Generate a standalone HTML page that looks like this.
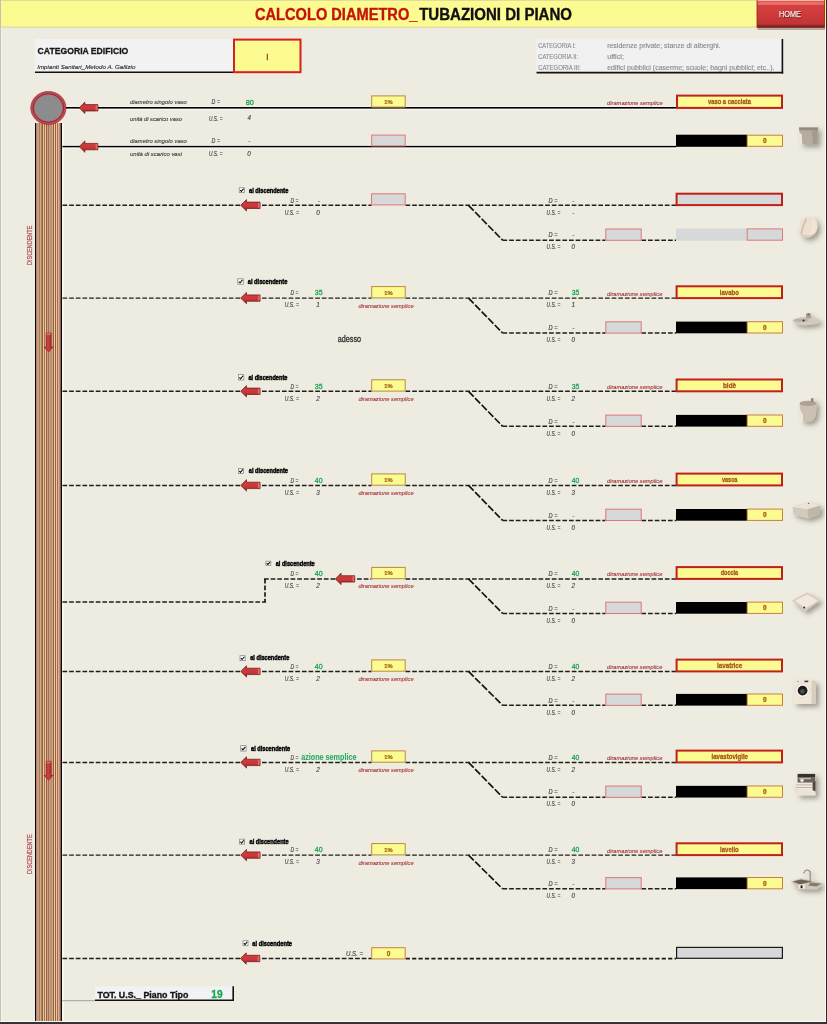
<!DOCTYPE html>
<html><head><meta charset="utf-8"><title>Calcolo Diametro</title>
<style>
html,body{margin:0;padding:0;background:#EEECE1;}
body{width:827px;height:1024px;overflow:hidden;font-family:"Liberation Sans", sans-serif;}
svg{display:block;font-family:"Liberation Sans", sans-serif;will-change:transform;}
</style></head><body>
<svg width="827" height="1024" viewBox="0 0 827 1024">
<defs>
<linearGradient id="gArrH" x1="0" y1="0" x2="0" y2="1">
<stop offset="0" stop-color="#a82c2c"/><stop offset="0.3" stop-color="#cc3c3c"/><stop offset="0.6" stop-color="#c83838"/><stop offset="1" stop-color="#862020"/>
</linearGradient>
<linearGradient id="gArrV" x1="0" y1="0" x2="1" y2="0">
<stop offset="0" stop-color="#a82c2c"/><stop offset="0.45" stop-color="#d04040"/><stop offset="1" stop-color="#922424"/>
</linearGradient>
<linearGradient id="gHome" x1="0" y1="0" x2="0" y2="1">
<stop offset="0" stop-color="#d84444"/><stop offset="0.5" stop-color="#cf3a3a"/><stop offset="0.88" stop-color="#c23434"/><stop offset="0.92" stop-color="#8a2626"/><stop offset="1" stop-color="#7a2020"/>
</linearGradient>
<radialGradient id="gIcon" cx="0.45" cy="0.4" r="0.7">
<stop offset="0" stop-color="#efe6da"/><stop offset="1" stop-color="#b8ae9f"/>
</radialGradient>
<filter id="blur1" x="-30%" y="-30%" width="160%" height="160%"><feGaussianBlur stdDeviation="0.6"/></filter>
<filter id="soft" x="-20%" y="-20%" width="140%" height="140%"><feGaussianBlur stdDeviation="0.35"/></filter>
<filter id="ds" x="-10%" y="-10%" width="120%" height="120%" filterUnits="userSpaceOnUse">
 <feGaussianBlur in="SourceAlpha" stdDeviation="2.4"/>
 <feOffset dx="3.2" dy="2.8" result="b"/>
 <feFlood flood-color="#4e4a40" flood-opacity="0.5"/>
 <feComposite in2="b" operator="in"/>
 <feMerge><feMergeNode/><feMergeNode in="SourceGraphic"/></feMerge>
</filter>
<filter id="blur2" x="-50%" y="-50%" width="200%" height="200%"><feGaussianBlur stdDeviation="1.6"/></filter>
</defs>
<rect x="0" y="0" width="827" height="1024" fill="#EEECE1"/>

<rect x="0" y="0" width="827.00" height="27.50" fill="#FCFB92" />
<line x1="0" y1="0.5" x2="827" y2="0.5" stroke="#e0dc9c" stroke-width="1"/>
<line x1="0" y1="27.2" x2="827" y2="27.2" stroke="#dcd9a2" stroke-width="1.3"/>
<text x="255" y="20.0" font-size="15.6" font-weight="bold" font-style="normal" fill="#C41408" textLength="162.40" lengthAdjust="spacingAndGlyphs"  stroke="#C41408" stroke-width="0.35">CALCOLO DIAMETRO_</text>
<text x="419.2" y="20.0" font-size="15.6" font-weight="bold" font-style="normal" fill="#111" textLength="152.80" lengthAdjust="spacingAndGlyphs"  stroke="#111" stroke-width="0.35">TUBAZIONI DI PIANO</text>
<rect x="757.5" y="3" width="67.5" height="27" fill="#6a6050" opacity="0.45" filter="url(#blur1)"/>
<rect x="757" y="0" width="67.60" height="27.50" fill="url(#gHome)" stroke="#9a2424" stroke-width="0.8" />
<rect x="757.5" y="0" width="66.70" height="1.20" fill="#f4b8a0" />
<rect x="757.8" y="2.2" width="66.00" height="2.60" fill="#f07070" />
<text x="779.4" y="17.5" font-size="8.4" font-weight="normal" font-style="normal" fill="#6a1818" textLength="22.00" lengthAdjust="spacingAndGlyphs"  stroke="#6a1818" stroke-width="0.5">HOME</text>
<text x="778.9" y="17.1" font-size="8.4" font-weight="normal" font-style="normal" fill="#f8e6e2" textLength="22.00" lengthAdjust="spacingAndGlyphs"  stroke="#f8e6e2" stroke-width="0.25">HOME</text>
<rect x="35" y="39" width="198.00" height="33.00" fill="#F2F2F2" />
<line x1="35" y1="72.2" x2="233" y2="72.2" stroke="#111" stroke-width="1.6"/>
<text x="37.6" y="54" font-size="9.6" font-weight="bold" font-style="normal" fill="#161616" textLength="90.70" lengthAdjust="spacingAndGlyphs"  stroke="#161616" stroke-width="0.3">CATEGORIA EDIFICIO</text>
<text x="37.2" y="69.2" font-size="6.2" font-weight="normal" font-style="italic" fill="#2a2a2a" textLength="98.20" lengthAdjust="spacingAndGlyphs"  stroke="#2a2a2a" stroke-width="0.12">Impianti Sanitari_Metodo A. Gallizio</text>
<rect x="234.0" y="39.6" width="66.50" height="32.60" fill="#FCFB92" stroke="#D42020" stroke-width="2" />
<text x="266.6" y="59.6" font-size="9.4" font-weight="bold" font-style="normal" fill="#9C4A00" textLength="1.80" lengthAdjust="spacingAndGlyphs"  stroke="#9C4A00" stroke-width="0.4">I</text>
<rect x="536.5" y="39.2" width="245.50" height="33.30" fill="#F1F1F1" />
<line x1="782.4" y1="39" x2="782.4" y2="73.5" stroke="#111" stroke-width="1.6"/>
<line x1="536.5" y1="72.7" x2="783.2" y2="72.7" stroke="#111" stroke-width="1.7"/>
<text x="538.2" y="47.7" font-size="6.4" font-weight="normal" font-style="normal" fill="#8a8a8a" textLength="37.50" lengthAdjust="spacingAndGlyphs"  stroke="#8a8a8a" stroke-width="0.12">CATEGORIA I:</text>
<text x="607.2" y="47.7" font-size="6.4" font-weight="normal" font-style="normal" fill="#8a8a8a" textLength="113.30" lengthAdjust="spacingAndGlyphs"  stroke="#8a8a8a" stroke-width="0.12">residenze private; stanze di alberghi.</text>
<text x="538.2" y="58.6" font-size="6.4" font-weight="normal" font-style="normal" fill="#8a8a8a" textLength="39.90" lengthAdjust="spacingAndGlyphs"  stroke="#8a8a8a" stroke-width="0.12">CATEGORIA II:</text>
<text x="607.2" y="58.6" font-size="6.4" font-weight="normal" font-style="normal" fill="#8a8a8a" textLength="16.80" lengthAdjust="spacingAndGlyphs"  stroke="#8a8a8a" stroke-width="0.12">uffici;</text>
<text x="538.2" y="69.7" font-size="6.4" font-weight="normal" font-style="normal" fill="#8a8a8a" textLength="42.40" lengthAdjust="spacingAndGlyphs"  stroke="#8a8a8a" stroke-width="0.12">CATEGORIA III:</text>
<text x="607.2" y="69.7" font-size="6.4" font-weight="normal" font-style="normal" fill="#8a8a8a" textLength="167.30" lengthAdjust="spacingAndGlyphs"  stroke="#8a8a8a" stroke-width="0.12">edifici pubblici (caserme; scuole; bagni pubblici; etc..).</text>
<g shape-rendering="crispEdges">
<rect x="35" y="123" width="1.00" height="901.00" fill="#0a0a0a" />
<rect x="36" y="123" width="1.00" height="901.00" fill="#B08070" />
<rect x="37" y="123" width="1.00" height="901.00" fill="#C89880" />
<rect x="38" y="123" width="1.00" height="901.00" fill="#C8A080" />
<rect x="39" y="123" width="1.00" height="901.00" fill="#A08050" />
<rect x="40" y="123" width="1.00" height="901.00" fill="#D0B080" />
<rect x="41" y="123" width="1.00" height="901.00" fill="#B08060" />
<rect x="42" y="123" width="1.00" height="901.00" fill="#906040" />
<rect x="43" y="123" width="1.00" height="901.00" fill="#F0C0A0" />
<rect x="44" y="123" width="1.00" height="901.00" fill="#A07050" />
<rect x="45" y="123" width="1.00" height="901.00" fill="#F0C8A0" />
<rect x="46" y="123" width="1.00" height="901.00" fill="#906040" />
<rect x="47" y="123" width="1.00" height="901.00" fill="#D0A080" />
<rect x="48" y="123" width="1.00" height="901.00" fill="#A07050" />
<rect x="49" y="123" width="1.00" height="901.00" fill="#C8A080" />
<rect x="50" y="123" width="1.00" height="901.00" fill="#C09070" />
<rect x="51" y="123" width="1.00" height="901.00" fill="#B89070" />
<rect x="52" y="123" width="1.00" height="901.00" fill="#D0A880" />
<rect x="53" y="123" width="1.00" height="901.00" fill="#906040" />
<rect x="54" y="123" width="1.00" height="901.00" fill="#F8C8A0" />
<rect x="55" y="123" width="1.00" height="901.00" fill="#906040" />
<rect x="56" y="123" width="1.00" height="901.00" fill="#F0C0A0" />
<rect x="57" y="123" width="1.00" height="901.00" fill="#A07050" />
<rect x="58" y="123" width="1.00" height="901.00" fill="#E0B090" />
<rect x="59" y="123" width="1.00" height="901.00" fill="#C09070" />
<rect x="60" y="123" width="1.00" height="901.00" fill="#806050" />
<rect x="61" y="123" width="1.20" height="901.00" fill="#0a0a0a" />
<rect x="62.2" y="123" width="1.60" height="901.00" fill="#f8f6ee" />
</g>
<ellipse cx="48.4" cy="108" rx="17.6" ry="16.5" fill="#c04a52" stroke="#a8323c" stroke-width="0.8"/>
<ellipse cx="48.4" cy="108" rx="15.4" ry="14.3" fill="none" stroke="#8a2a34" stroke-width="0.9"/>
<ellipse cx="48.4" cy="108" rx="14" ry="13.2" fill="#8c8c8e"/>
<polygon points="46.0,333 51.2,333 51.2,347 53.1,347 48.6,352 44.1,347 46.0,347" fill="url(#gArrV)" stroke="#7a1c1c" stroke-width="0.5" stroke-linejoin="round"/><rect x="46.5" y="333.3" width="4.2" height="1.6" fill="#f08080" opacity="0.8"/>
<polygon points="46.0,761.3 51.2,761.3 51.2,775.3 53.1,775.3 48.6,780.3 44.1,775.3 46.0,775.3" fill="url(#gArrV)" stroke="#7a1c1c" stroke-width="0.5" stroke-linejoin="round"/><rect x="46.5" y="761.5999999999999" width="4.2" height="1.6" fill="#f08080" opacity="0.8"/>
<text x="0" y="0" font-size="6.3" fill="#b04a56" stroke="#b04a56" stroke-width="0.2" text-anchor="middle" textLength="39.3" lengthAdjust="spacingAndGlyphs" transform="translate(32.2,245.35) rotate(-90)">DISCENDENTE</text>
<text x="0" y="0" font-size="6.3" fill="#b04a56" stroke="#b04a56" stroke-width="0.2" text-anchor="middle" textLength="39.6" lengthAdjust="spacingAndGlyphs" transform="translate(32.2,854.2) rotate(-90)">DISCENDENTE</text>
<line x1="66" y1="107.8" x2="676" y2="107.8" stroke="#000" stroke-width="1.7"/>
<line x1="66" y1="109.3" x2="676" y2="109.3" stroke="#fbfaf4" stroke-width="1"/>
<line x1="66" y1="106.2" x2="676" y2="106.2" stroke="#f3f2ec" stroke-width="1"/>
<polygon points="79.1,107.8 84.89999999999999,102.1 84.89999999999999,104.6 97.89999999999999,104.6 97.89999999999999,111.0 84.89999999999999,111.0 84.89999999999999,113.5" fill="url(#gArrH)" stroke="#6a1616" stroke-width="0.7" stroke-linejoin="round"/><rect x="95.69999999999999" y="105.19999999999999" width="1.8" height="5.2" fill="#f08080" opacity="0.7"/>
<text x="130" y="103.8" font-size="6.1" font-weight="normal" font-style="italic" fill="#3a3a3a" textLength="56.80" lengthAdjust="spacingAndGlyphs"  stroke="#3a3a3a" stroke-width="0.12">diametro singolo vaso</text>
<text x="211.6" y="104.0" font-size="6.3" font-weight="normal" font-style="italic" fill="#3a3a3a" textLength="8.40" lengthAdjust="spacingAndGlyphs"  stroke="#3a3a3a" stroke-width="0.12">D =</text>
<text x="130" y="120.89999999999999" font-size="6.1" font-weight="normal" font-style="italic" fill="#3a3a3a" textLength="52.00" lengthAdjust="spacingAndGlyphs"  stroke="#3a3a3a" stroke-width="0.12">unità di scarico vaso</text>
<text x="209" y="120.89999999999999" font-size="6.3" font-weight="normal" font-style="italic" fill="#3a3a3a" textLength="13.50" lengthAdjust="spacingAndGlyphs"  stroke="#3a3a3a" stroke-width="0.12">U.S. =</text>
<line x1="62.5" y1="146.6" x2="676" y2="146.6" stroke="#000" stroke-width="1.7"/>
<line x1="62.5" y1="148.1" x2="676" y2="148.1" stroke="#fbfaf4" stroke-width="1"/>
<line x1="62.5" y1="145.0" x2="676" y2="145.0" stroke="#f3f2ec" stroke-width="1"/>
<polygon points="79.1,146.6 84.89999999999999,140.9 84.89999999999999,143.4 97.89999999999999,143.4 97.89999999999999,149.79999999999998 84.89999999999999,149.79999999999998 84.89999999999999,152.29999999999998" fill="url(#gArrH)" stroke="#6a1616" stroke-width="0.7" stroke-linejoin="round"/><rect x="95.69999999999999" y="144.0" width="1.8" height="5.2" fill="#f08080" opacity="0.7"/>
<text x="130" y="142.6" font-size="6.1" font-weight="normal" font-style="italic" fill="#3a3a3a" textLength="56.80" lengthAdjust="spacingAndGlyphs"  stroke="#3a3a3a" stroke-width="0.12">diametro singolo vaso</text>
<text x="211.6" y="142.79999999999998" font-size="6.3" font-weight="normal" font-style="italic" fill="#3a3a3a" textLength="8.40" lengthAdjust="spacingAndGlyphs"  stroke="#3a3a3a" stroke-width="0.12">D =</text>
<text x="130" y="155.79999999999998" font-size="6.1" font-weight="normal" font-style="italic" fill="#3a3a3a" textLength="52.00" lengthAdjust="spacingAndGlyphs"  stroke="#3a3a3a" stroke-width="0.12">unità di scarico vasi</text>
<text x="209" y="155.79999999999998" font-size="6.3" font-weight="normal" font-style="italic" fill="#3a3a3a" textLength="13.50" lengthAdjust="spacingAndGlyphs"  stroke="#3a3a3a" stroke-width="0.12">U.S. =</text>
<text x="245.7" y="104.8" font-size="8.0" font-weight="normal" font-style="normal" fill="#18A850" textLength="8.20" lengthAdjust="spacingAndGlyphs"  stroke="#18A850" stroke-width="0.3">80</text>
<text x="249.3" y="120.4" font-size="6.3" font-weight="normal" font-style="italic" fill="#3a3a3a" text-anchor="middle"  stroke="#3a3a3a" stroke-width="0.12">4</text>
<text x="249.3" y="142.8" font-size="6.3" font-weight="normal" font-style="italic" fill="#3a3a3a" text-anchor="middle"  stroke="#3a3a3a" stroke-width="0.12">-</text>
<text x="249.1" y="155.8" font-size="6.3" font-weight="normal" font-style="italic" fill="#3a3a3a" text-anchor="middle"  stroke="#3a3a3a" stroke-width="0.12">0</text>
<rect x="371.7" y="95.9" width="33.50" height="11.20" fill="#FCFB92" stroke="#B88A40" stroke-width="1" />
<text x="388.5" y="103.8" font-size="5.8" font-weight="bold" font-style="normal" fill="#A05A10" text-anchor="middle"  stroke="#A05A10" stroke-width="0.15">1%</text>
<text x="607" y="105.2" font-size="5.9" font-weight="normal" font-style="italic" fill="#A33038" textLength="55.60" lengthAdjust="spacingAndGlyphs"  stroke="#A33038" stroke-width="0.1">diramazione semplice</text>
<rect x="677.0" y="95.6" width="105.00" height="12.30" fill="#FCFB92" stroke="#C0201A" stroke-width="2" />
<text x="707.9" y="104.3" font-size="7.2" font-weight="bold" font-style="normal" fill="#A5561E" textLength="43.00" lengthAdjust="spacingAndGlyphs"  stroke="#A5561E" stroke-width="0.3">vaso a cacciata</text>
<rect x="371.7" y="135.1" width="33.50" height="10.80" fill="#D7D8DA" stroke="#E07878" stroke-width="1" />
<rect x="676" y="134.7" width="71.00" height="12.10" fill="#000" />
<rect x="747.2" y="135.2" width="35.30" height="11.10" fill="#FCFB92" stroke="#C88040" stroke-width="1" />
<text x="764.9" y="143.3" font-size="6.5" font-weight="bold" font-style="normal" fill="#A86400" text-anchor="middle"  stroke="#A86400" stroke-width="0.3">0</text>
<line x1="62.5" y1="205.3" x2="371.5" y2="205.3" stroke="#1e1e1e" stroke-width="1.45" stroke-dasharray="4.7 1.95"/>
<line x1="405.5" y1="205.3" x2="676" y2="205.3" stroke="#1e1e1e" stroke-width="1.45" stroke-dasharray="4.7 1.95"/>
<line x1="468.5" y1="205.3" x2="502.6" y2="240.2" stroke="#151515" stroke-width="1.7" stroke-dasharray="7.4 2.0"/>
<line x1="502.5" y1="240.2" x2="605.6" y2="240.2" stroke="#1e1e1e" stroke-width="1.45" stroke-dasharray="4.7 1.95"/>
<line x1="641.4" y1="240.2" x2="676" y2="240.2" stroke="#1e1e1e" stroke-width="1.45" stroke-dasharray="4.7 1.95"/>
<polygon points="240.7,205.3 246.5,199.60000000000002 246.5,202.10000000000002 260.09999999999997,202.10000000000002 260.09999999999997,208.5 246.5,208.5 246.5,211.0" fill="url(#gArrH)" stroke="#6a1616" stroke-width="0.7" stroke-linejoin="round"/><rect x="257.9" y="202.70000000000002" width="1.8" height="5.2" fill="#f08080" opacity="0.7"/>
<rect x="239.3" y="187.70000000000002" width="5.20" height="4.70" fill="#fdfdfd" stroke="#8a8a8a" stroke-width="0.8" /><polyline points="240.22,190.05 241.42000000000002,191.37 243.70000000000002,188.675" fill="none" stroke="#111" stroke-width="1.1"/>
<text x="249" y="192.5" font-size="6.6" font-weight="bold" font-style="normal" fill="#050505" textLength="39.40" lengthAdjust="spacingAndGlyphs"  stroke="#050505" stroke-width="0.45">al discendente</text>
<text x="290.6" y="202.5" font-size="6.3" font-weight="normal" font-style="italic" fill="#3a3a3a" textLength="7.90" lengthAdjust="spacingAndGlyphs"  stroke="#3a3a3a" stroke-width="0.12">D =</text><text x="284.8" y="214.5" font-size="6.3" font-weight="normal" font-style="italic" fill="#3a3a3a" textLength="14.20" lengthAdjust="spacingAndGlyphs"  stroke="#3a3a3a" stroke-width="0.12">U.S. =</text><text x="318.7" y="202.5" font-size="6.3" font-weight="normal" font-style="italic" fill="#3a3a3a" text-anchor="middle"  stroke="#3a3a3a" stroke-width="0.12">-</text><text x="318.0" y="214.5" font-size="6.3" font-weight="normal" font-style="italic" fill="#3a3a3a" text-anchor="middle"  stroke="#3a3a3a" stroke-width="0.12">0</text>
<rect x="371.5" y="193.8" width="33.70" height="11.10" fill="#D7D8DA" stroke="#E07878" stroke-width="1" />
<text x="548.6" y="202.5" font-size="6.3" font-weight="normal" font-style="italic" fill="#3a3a3a" textLength="9.00" lengthAdjust="spacingAndGlyphs"  stroke="#3a3a3a" stroke-width="0.12">D =</text><text x="546.5" y="214.5" font-size="6.3" font-weight="normal" font-style="italic" fill="#3a3a3a" textLength="13.80" lengthAdjust="spacingAndGlyphs"  stroke="#3a3a3a" stroke-width="0.12">U.S. =</text><text x="573.2" y="202.5" font-size="6.3" font-weight="normal" font-style="italic" fill="#3a3a3a" text-anchor="middle"  stroke="#3a3a3a" stroke-width="0.12">-</text><text x="573.2" y="214.5" font-size="6.3" font-weight="normal" font-style="italic" fill="#3a3a3a" text-anchor="middle"  stroke="#3a3a3a" stroke-width="0.12">-</text>
<text x="548.6" y="237.39999999999998" font-size="6.3" font-weight="normal" font-style="italic" fill="#3a3a3a" textLength="9.00" lengthAdjust="spacingAndGlyphs"  stroke="#3a3a3a" stroke-width="0.12">D =</text><text x="546.5" y="249.39999999999998" font-size="6.3" font-weight="normal" font-style="italic" fill="#3a3a3a" textLength="13.80" lengthAdjust="spacingAndGlyphs"  stroke="#3a3a3a" stroke-width="0.12">U.S. =</text><text x="573.2" y="237.39999999999998" font-size="6.3" font-weight="normal" font-style="italic" fill="#3a3a3a" text-anchor="middle"  stroke="#3a3a3a" stroke-width="0.12">-</text><text x="573.2" y="249.39999999999998" font-size="6.3" font-weight="normal" font-style="italic" fill="#3a3a3a" text-anchor="middle"  stroke="#3a3a3a" stroke-width="0.12">0</text>
<rect x="676.6" y="193.70000000000002" width="105.40" height="11.40" fill="#D7D8DA" stroke="#C0201A" stroke-width="2" />
<rect x="605.8" y="229.0" width="35.40" height="11.30" fill="#D7D8DA" stroke="#D87878" stroke-width="1" />
<rect x="676" y="228.39999999999998" width="71.00" height="12.30" fill="#D7D8DA" />
<rect x="747.2" y="228.89999999999998" width="35.30" height="11.30" fill="#D7D8DA" stroke="#E07878" stroke-width="1" />
<line x1="62.5" y1="298.1" x2="371.5" y2="298.1" stroke="#1e1e1e" stroke-width="1.45" stroke-dasharray="4.7 1.95"/>
<line x1="405.5" y1="298.1" x2="676" y2="298.1" stroke="#1e1e1e" stroke-width="1.45" stroke-dasharray="4.7 1.95"/>
<line x1="468.5" y1="298.1" x2="502.6" y2="333.0" stroke="#151515" stroke-width="1.7" stroke-dasharray="7.4 2.0"/>
<line x1="502.5" y1="333.0" x2="605.6" y2="333.0" stroke="#1e1e1e" stroke-width="1.45" stroke-dasharray="4.7 1.95"/>
<line x1="641.4" y1="333.0" x2="676" y2="333.0" stroke="#1e1e1e" stroke-width="1.45" stroke-dasharray="4.7 1.95"/>
<polygon points="240.7,298.1 246.5,292.40000000000003 246.5,294.90000000000003 260.09999999999997,294.90000000000003 260.09999999999997,301.3 246.5,301.3 246.5,303.8" fill="url(#gArrH)" stroke="#6a1616" stroke-width="0.7" stroke-linejoin="round"/><rect x="257.9" y="295.50000000000006" width="1.8" height="5.2" fill="#f08080" opacity="0.7"/>
<rect x="237.8" y="278.79999999999995" width="5.50" height="5.40" fill="#fdfdfd" stroke="#8a8a8a" stroke-width="0.8" /><polyline points="238.786,281.5 240.046,282.988 242.44,279.95" fill="none" stroke="#111" stroke-width="1.1"/>
<text x="247.8" y="283.90000000000003" font-size="6.6" font-weight="bold" font-style="normal" fill="#050505" textLength="39.50" lengthAdjust="spacingAndGlyphs"  stroke="#050505" stroke-width="0.45">al discendente</text>
<text x="290.6" y="295.3" font-size="6.3" font-weight="normal" font-style="italic" fill="#3a3a3a" textLength="7.90" lengthAdjust="spacingAndGlyphs"  stroke="#3a3a3a" stroke-width="0.12">D =</text><text x="284.8" y="307.3" font-size="6.3" font-weight="normal" font-style="italic" fill="#3a3a3a" textLength="14.20" lengthAdjust="spacingAndGlyphs"  stroke="#3a3a3a" stroke-width="0.12">U.S. =</text><text x="314.8" y="295.40000000000003" font-size="8.0" font-weight="normal" font-style="normal" fill="#18A850" textLength="7.80" lengthAdjust="spacingAndGlyphs"  stroke="#18A850" stroke-width="0.3">35</text><text x="318.0" y="307.3" font-size="6.3" font-weight="normal" font-style="italic" fill="#3a3a3a" text-anchor="middle"  stroke="#3a3a3a" stroke-width="0.12">1</text>
<rect x="371.7" y="286.6" width="33.50" height="11.30" fill="#FCFB92" stroke="#B88A40" stroke-width="1" />
<text x="388.5" y="294.5" font-size="5.8" font-weight="bold" font-style="normal" fill="#A05A10" text-anchor="middle"  stroke="#A05A10" stroke-width="0.15">1%</text>
<text x="358.4" y="307.5" font-size="5.9" font-weight="normal" font-style="italic" fill="#A33038" textLength="55.20" lengthAdjust="spacingAndGlyphs"  stroke="#A33038" stroke-width="0.1">diramazione semplice</text>
<text x="607" y="295.5" font-size="5.9" font-weight="normal" font-style="italic" fill="#A33038" textLength="55.40" lengthAdjust="spacingAndGlyphs"  stroke="#A33038" stroke-width="0.1">diramazione semplice</text>
<text x="548.6" y="295.3" font-size="6.3" font-weight="normal" font-style="italic" fill="#3a3a3a" textLength="9.00" lengthAdjust="spacingAndGlyphs"  stroke="#3a3a3a" stroke-width="0.12">D =</text><text x="546.5" y="307.3" font-size="6.3" font-weight="normal" font-style="italic" fill="#3a3a3a" textLength="13.80" lengthAdjust="spacingAndGlyphs"  stroke="#3a3a3a" stroke-width="0.12">U.S. =</text><text x="571.7" y="295.40000000000003" font-size="8.0" font-weight="normal" font-style="normal" fill="#18A850" textLength="7.60" lengthAdjust="spacingAndGlyphs"  stroke="#18A850" stroke-width="0.3">35</text><text x="573.2" y="307.3" font-size="6.3" font-weight="normal" font-style="italic" fill="#3a3a3a" text-anchor="middle"  stroke="#3a3a3a" stroke-width="0.12">1</text>
<text x="548.6" y="330.2" font-size="6.3" font-weight="normal" font-style="italic" fill="#3a3a3a" textLength="9.00" lengthAdjust="spacingAndGlyphs"  stroke="#3a3a3a" stroke-width="0.12">D =</text><text x="546.5" y="342.2" font-size="6.3" font-weight="normal" font-style="italic" fill="#3a3a3a" textLength="13.80" lengthAdjust="spacingAndGlyphs"  stroke="#3a3a3a" stroke-width="0.12">U.S. =</text><text x="573.2" y="330.2" font-size="6.3" font-weight="normal" font-style="italic" fill="#3a3a3a" text-anchor="middle"  stroke="#3a3a3a" stroke-width="0.12">-</text><text x="573.2" y="342.2" font-size="6.3" font-weight="normal" font-style="italic" fill="#3a3a3a" text-anchor="middle"  stroke="#3a3a3a" stroke-width="0.12">0</text>
<rect x="676.6" y="286.3" width="105.40" height="11.80" fill="#FCFB92" stroke="#C0201A" stroke-width="2" />
<text x="719.8" y="294.6" font-size="7.2" font-weight="bold" font-style="normal" fill="#A5561E" textLength="19.00" lengthAdjust="spacingAndGlyphs"  stroke="#A5561E" stroke-width="0.3">lavabo</text>
<rect x="605.8" y="321.8" width="35.40" height="11.30" fill="#D7D8DA" stroke="#D87878" stroke-width="1" />
<rect x="676" y="321.6" width="71.00" height="11.70" fill="#000" />
<rect x="747.2" y="321.7" width="35.30" height="11.30" fill="#FCFB92" stroke="#C88040" stroke-width="1" />
<text x="764.9" y="329.7" font-size="6.5" font-weight="bold" font-style="normal" fill="#A86400" text-anchor="middle"  stroke="#A86400" stroke-width="0.3">0</text>
<line x1="62.5" y1="391.3" x2="371.5" y2="391.3" stroke="#1e1e1e" stroke-width="1.45" stroke-dasharray="4.7 1.95"/>
<line x1="405.5" y1="391.3" x2="676" y2="391.3" stroke="#1e1e1e" stroke-width="1.45" stroke-dasharray="4.7 1.95"/>
<line x1="468.5" y1="391.3" x2="502.6" y2="426.3" stroke="#151515" stroke-width="1.7" stroke-dasharray="7.4 2.0"/>
<line x1="502.5" y1="426.3" x2="605.6" y2="426.3" stroke="#1e1e1e" stroke-width="1.45" stroke-dasharray="4.7 1.95"/>
<line x1="641.4" y1="426.3" x2="676" y2="426.3" stroke="#1e1e1e" stroke-width="1.45" stroke-dasharray="4.7 1.95"/>
<polygon points="240.7,391.3 246.5,385.6 246.5,388.1 260.09999999999997,388.1 260.09999999999997,394.5 246.5,394.5 246.5,397.0" fill="url(#gArrH)" stroke="#6a1616" stroke-width="0.7" stroke-linejoin="round"/><rect x="257.9" y="388.70000000000005" width="1.8" height="5.2" fill="#f08080" opacity="0.7"/>
<rect x="238.4" y="374.59999999999997" width="5.40" height="5.40" fill="#fdfdfd" stroke="#8a8a8a" stroke-width="0.8" /><polyline points="239.364,377.29999999999995 240.60399999999998,378.78799999999995 242.95999999999998,375.75" fill="none" stroke="#111" stroke-width="1.1"/>
<text x="248.4" y="379.90000000000003" font-size="6.6" font-weight="bold" font-style="normal" fill="#050505" textLength="39.00" lengthAdjust="spacingAndGlyphs"  stroke="#050505" stroke-width="0.45">al discendente</text>
<text x="290.6" y="388.5" font-size="6.3" font-weight="normal" font-style="italic" fill="#3a3a3a" textLength="7.90" lengthAdjust="spacingAndGlyphs"  stroke="#3a3a3a" stroke-width="0.12">D =</text><text x="284.8" y="400.5" font-size="6.3" font-weight="normal" font-style="italic" fill="#3a3a3a" textLength="14.20" lengthAdjust="spacingAndGlyphs"  stroke="#3a3a3a" stroke-width="0.12">U.S. =</text><text x="314.8" y="388.6" font-size="8.0" font-weight="normal" font-style="normal" fill="#18A850" textLength="7.80" lengthAdjust="spacingAndGlyphs"  stroke="#18A850" stroke-width="0.3">35</text><text x="318.0" y="400.5" font-size="6.3" font-weight="normal" font-style="italic" fill="#3a3a3a" text-anchor="middle"  stroke="#3a3a3a" stroke-width="0.12">2</text>
<rect x="371.7" y="379.8" width="33.50" height="11.30" fill="#FCFB92" stroke="#B88A40" stroke-width="1" />
<text x="388.5" y="387.7" font-size="5.8" font-weight="bold" font-style="normal" fill="#A05A10" text-anchor="middle"  stroke="#A05A10" stroke-width="0.15">1%</text>
<text x="358.4" y="400.7" font-size="5.9" font-weight="normal" font-style="italic" fill="#A33038" textLength="55.20" lengthAdjust="spacingAndGlyphs"  stroke="#A33038" stroke-width="0.1">diramazione semplice</text>
<text x="607" y="388.7" font-size="5.9" font-weight="normal" font-style="italic" fill="#A33038" textLength="55.40" lengthAdjust="spacingAndGlyphs"  stroke="#A33038" stroke-width="0.1">diramazione semplice</text>
<text x="548.6" y="388.5" font-size="6.3" font-weight="normal" font-style="italic" fill="#3a3a3a" textLength="9.00" lengthAdjust="spacingAndGlyphs"  stroke="#3a3a3a" stroke-width="0.12">D =</text><text x="546.5" y="400.5" font-size="6.3" font-weight="normal" font-style="italic" fill="#3a3a3a" textLength="13.80" lengthAdjust="spacingAndGlyphs"  stroke="#3a3a3a" stroke-width="0.12">U.S. =</text><text x="571.7" y="388.6" font-size="8.0" font-weight="normal" font-style="normal" fill="#18A850" textLength="7.60" lengthAdjust="spacingAndGlyphs"  stroke="#18A850" stroke-width="0.3">35</text><text x="573.2" y="400.5" font-size="6.3" font-weight="normal" font-style="italic" fill="#3a3a3a" text-anchor="middle"  stroke="#3a3a3a" stroke-width="0.12">2</text>
<text x="548.6" y="423.5" font-size="6.3" font-weight="normal" font-style="italic" fill="#3a3a3a" textLength="9.00" lengthAdjust="spacingAndGlyphs"  stroke="#3a3a3a" stroke-width="0.12">D =</text><text x="546.5" y="435.5" font-size="6.3" font-weight="normal" font-style="italic" fill="#3a3a3a" textLength="13.80" lengthAdjust="spacingAndGlyphs"  stroke="#3a3a3a" stroke-width="0.12">U.S. =</text><text x="573.2" y="423.5" font-size="6.3" font-weight="normal" font-style="italic" fill="#3a3a3a" text-anchor="middle"  stroke="#3a3a3a" stroke-width="0.12">-</text><text x="573.2" y="435.5" font-size="6.3" font-weight="normal" font-style="italic" fill="#3a3a3a" text-anchor="middle"  stroke="#3a3a3a" stroke-width="0.12">0</text>
<rect x="676.6" y="379.5" width="105.40" height="11.80" fill="#FCFB92" stroke="#C0201A" stroke-width="2" />
<text x="722.9" y="387.8" font-size="7.2" font-weight="bold" font-style="normal" fill="#A5561E" textLength="13.30" lengthAdjust="spacingAndGlyphs"  stroke="#A5561E" stroke-width="0.3">bidè</text>
<rect x="605.8" y="415.1" width="35.40" height="11.30" fill="#D7D8DA" stroke="#D87878" stroke-width="1" />
<rect x="676" y="414.90000000000003" width="71.00" height="11.70" fill="#000" />
<rect x="747.2" y="415.0" width="35.30" height="11.30" fill="#FCFB92" stroke="#C88040" stroke-width="1" />
<text x="764.9" y="423.0" font-size="6.5" font-weight="bold" font-style="normal" fill="#A86400" text-anchor="middle"  stroke="#A86400" stroke-width="0.3">0</text>
<line x1="62.5" y1="485.4" x2="371.5" y2="485.4" stroke="#1e1e1e" stroke-width="1.45" stroke-dasharray="4.7 1.95"/>
<line x1="405.5" y1="485.4" x2="676" y2="485.4" stroke="#1e1e1e" stroke-width="1.45" stroke-dasharray="4.7 1.95"/>
<line x1="468.5" y1="485.4" x2="502.6" y2="520.4" stroke="#151515" stroke-width="1.7" stroke-dasharray="7.4 2.0"/>
<line x1="502.5" y1="520.4" x2="605.6" y2="520.4" stroke="#1e1e1e" stroke-width="1.45" stroke-dasharray="4.7 1.95"/>
<line x1="641.4" y1="520.4" x2="676" y2="520.4" stroke="#1e1e1e" stroke-width="1.45" stroke-dasharray="4.7 1.95"/>
<polygon points="240.7,485.4 246.5,479.7 246.5,482.2 260.09999999999997,482.2 260.09999999999997,488.59999999999997 246.5,488.59999999999997 246.5,491.09999999999997" fill="url(#gArrH)" stroke="#6a1616" stroke-width="0.7" stroke-linejoin="round"/><rect x="257.9" y="482.8" width="1.8" height="5.2" fill="#f08080" opacity="0.7"/>
<rect x="238.4" y="468.4" width="5.20" height="5.00" fill="#fdfdfd" stroke="#8a8a8a" stroke-width="0.8" /><polyline points="239.32,470.9 240.52,472.29200000000003 242.8,469.45" fill="none" stroke="#111" stroke-width="1.1"/>
<text x="248.8" y="473.3" font-size="6.6" font-weight="bold" font-style="normal" fill="#050505" textLength="39.10" lengthAdjust="spacingAndGlyphs"  stroke="#050505" stroke-width="0.45">al discendente</text>
<text x="290.6" y="482.59999999999997" font-size="6.3" font-weight="normal" font-style="italic" fill="#3a3a3a" textLength="7.90" lengthAdjust="spacingAndGlyphs"  stroke="#3a3a3a" stroke-width="0.12">D =</text><text x="284.8" y="494.59999999999997" font-size="6.3" font-weight="normal" font-style="italic" fill="#3a3a3a" textLength="14.20" lengthAdjust="spacingAndGlyphs"  stroke="#3a3a3a" stroke-width="0.12">U.S. =</text><text x="314.8" y="482.7" font-size="8.0" font-weight="normal" font-style="normal" fill="#18A850" textLength="7.80" lengthAdjust="spacingAndGlyphs"  stroke="#18A850" stroke-width="0.3">40</text><text x="318.0" y="494.59999999999997" font-size="6.3" font-weight="normal" font-style="italic" fill="#3a3a3a" text-anchor="middle"  stroke="#3a3a3a" stroke-width="0.12">3</text>
<rect x="371.7" y="473.9" width="33.50" height="11.30" fill="#FCFB92" stroke="#B88A40" stroke-width="1" />
<text x="388.5" y="481.79999999999995" font-size="5.8" font-weight="bold" font-style="normal" fill="#A05A10" text-anchor="middle"  stroke="#A05A10" stroke-width="0.15">1%</text>
<text x="358.4" y="494.79999999999995" font-size="5.9" font-weight="normal" font-style="italic" fill="#A33038" textLength="55.20" lengthAdjust="spacingAndGlyphs"  stroke="#A33038" stroke-width="0.1">diramazione semplice</text>
<text x="607" y="482.79999999999995" font-size="5.9" font-weight="normal" font-style="italic" fill="#A33038" textLength="55.40" lengthAdjust="spacingAndGlyphs"  stroke="#A33038" stroke-width="0.1">diramazione semplice</text>
<text x="548.6" y="482.59999999999997" font-size="6.3" font-weight="normal" font-style="italic" fill="#3a3a3a" textLength="9.00" lengthAdjust="spacingAndGlyphs"  stroke="#3a3a3a" stroke-width="0.12">D =</text><text x="546.5" y="494.59999999999997" font-size="6.3" font-weight="normal" font-style="italic" fill="#3a3a3a" textLength="13.80" lengthAdjust="spacingAndGlyphs"  stroke="#3a3a3a" stroke-width="0.12">U.S. =</text><text x="571.7" y="482.7" font-size="8.0" font-weight="normal" font-style="normal" fill="#18A850" textLength="7.60" lengthAdjust="spacingAndGlyphs"  stroke="#18A850" stroke-width="0.3">40</text><text x="573.2" y="494.59999999999997" font-size="6.3" font-weight="normal" font-style="italic" fill="#3a3a3a" text-anchor="middle"  stroke="#3a3a3a" stroke-width="0.12">3</text>
<text x="548.6" y="517.6" font-size="6.3" font-weight="normal" font-style="italic" fill="#3a3a3a" textLength="9.00" lengthAdjust="spacingAndGlyphs"  stroke="#3a3a3a" stroke-width="0.12">D =</text><text x="546.5" y="529.6" font-size="6.3" font-weight="normal" font-style="italic" fill="#3a3a3a" textLength="13.80" lengthAdjust="spacingAndGlyphs"  stroke="#3a3a3a" stroke-width="0.12">U.S. =</text><text x="573.2" y="517.6" font-size="6.3" font-weight="normal" font-style="italic" fill="#3a3a3a" text-anchor="middle"  stroke="#3a3a3a" stroke-width="0.12">-</text><text x="573.2" y="529.6" font-size="6.3" font-weight="normal" font-style="italic" fill="#3a3a3a" text-anchor="middle"  stroke="#3a3a3a" stroke-width="0.12">0</text>
<rect x="676.6" y="473.59999999999997" width="105.40" height="11.80" fill="#FCFB92" stroke="#C0201A" stroke-width="2" />
<text x="721.9" y="481.9" font-size="7.2" font-weight="bold" font-style="normal" fill="#A5561E" textLength="15.50" lengthAdjust="spacingAndGlyphs"  stroke="#A5561E" stroke-width="0.3">vasca</text>
<rect x="605.8" y="509.2" width="35.40" height="11.30" fill="#D7D8DA" stroke="#D87878" stroke-width="1" />
<rect x="676" y="509.0" width="71.00" height="11.70" fill="#000" />
<rect x="747.2" y="509.09999999999997" width="35.30" height="11.30" fill="#FCFB92" stroke="#C88040" stroke-width="1" />
<text x="764.9" y="517.1" font-size="6.5" font-weight="bold" font-style="normal" fill="#A86400" text-anchor="middle"  stroke="#A86400" stroke-width="0.3">0</text>
<line x1="62.5" y1="602" x2="266" y2="602" stroke="#1e1e1e" stroke-width="1.45" stroke-dasharray="4.7 1.95"/>
<line x1="265" y1="579" x2="265" y2="602" stroke="#262626" stroke-width="1.8" stroke-dasharray="4.6 2"/>
<line x1="264" y1="578.9" x2="371.5" y2="578.9" stroke="#1e1e1e" stroke-width="1.45" stroke-dasharray="4.7 1.95"/>
<line x1="405.5" y1="578.9" x2="676" y2="578.9" stroke="#1e1e1e" stroke-width="1.45" stroke-dasharray="4.7 1.95"/>
<line x1="468.5" y1="578.9" x2="502.6" y2="613.4" stroke="#151515" stroke-width="1.7" stroke-dasharray="7.4 2.0"/>
<line x1="502.5" y1="613.4" x2="605.6" y2="613.4" stroke="#1e1e1e" stroke-width="1.45" stroke-dasharray="4.7 1.95"/>
<line x1="641.4" y1="613.4" x2="676" y2="613.4" stroke="#1e1e1e" stroke-width="1.45" stroke-dasharray="4.7 1.95"/>
<polygon points="335.3,578.9 341.1,573.1999999999999 341.1,575.6999999999999 354.7,575.6999999999999 354.7,582.1 341.1,582.1 341.1,584.6" fill="url(#gArrH)" stroke="#6a1616" stroke-width="0.7" stroke-linejoin="round"/><rect x="352.5" y="576.3" width="1.8" height="5.2" fill="#f08080" opacity="0.7"/>
<rect x="265.79999999999995" y="561.1999999999999" width="5.00" height="4.10" fill="#fdfdfd" stroke="#8a8a8a" stroke-width="0.8" /><polyline points="266.676,563.25 267.83599999999996,564.426 270.03999999999996,562.025" fill="none" stroke="#111" stroke-width="1.1"/>
<text x="275.7" y="565.9" font-size="6.6" font-weight="bold" font-style="normal" fill="#050505" textLength="39.00" lengthAdjust="spacingAndGlyphs"  stroke="#050505" stroke-width="0.45">al discendente</text>
<text x="290.6" y="576.1" font-size="6.3" font-weight="normal" font-style="italic" fill="#3a3a3a" textLength="7.90" lengthAdjust="spacingAndGlyphs"  stroke="#3a3a3a" stroke-width="0.12">D =</text><text x="284.8" y="588.1" font-size="6.3" font-weight="normal" font-style="italic" fill="#3a3a3a" textLength="14.20" lengthAdjust="spacingAndGlyphs"  stroke="#3a3a3a" stroke-width="0.12">U.S. =</text><text x="314.8" y="576.1999999999999" font-size="8.0" font-weight="normal" font-style="normal" fill="#18A850" textLength="7.80" lengthAdjust="spacingAndGlyphs"  stroke="#18A850" stroke-width="0.3">40</text><text x="318.0" y="588.1" font-size="6.3" font-weight="normal" font-style="italic" fill="#3a3a3a" text-anchor="middle"  stroke="#3a3a3a" stroke-width="0.12">2</text>
<rect x="371.7" y="567.4" width="33.50" height="11.30" fill="#FCFB92" stroke="#B88A40" stroke-width="1" />
<text x="388.5" y="575.3" font-size="5.8" font-weight="bold" font-style="normal" fill="#A05A10" text-anchor="middle"  stroke="#A05A10" stroke-width="0.15">1%</text>
<text x="358.4" y="588.3" font-size="5.9" font-weight="normal" font-style="italic" fill="#A33038" textLength="55.20" lengthAdjust="spacingAndGlyphs"  stroke="#A33038" stroke-width="0.1">diramazione semplice</text>
<text x="607" y="576.3" font-size="5.9" font-weight="normal" font-style="italic" fill="#A33038" textLength="55.40" lengthAdjust="spacingAndGlyphs"  stroke="#A33038" stroke-width="0.1">diramazione semplice</text>
<text x="548.6" y="576.1" font-size="6.3" font-weight="normal" font-style="italic" fill="#3a3a3a" textLength="9.00" lengthAdjust="spacingAndGlyphs"  stroke="#3a3a3a" stroke-width="0.12">D =</text><text x="546.5" y="588.1" font-size="6.3" font-weight="normal" font-style="italic" fill="#3a3a3a" textLength="13.80" lengthAdjust="spacingAndGlyphs"  stroke="#3a3a3a" stroke-width="0.12">U.S. =</text><text x="571.7" y="576.1999999999999" font-size="8.0" font-weight="normal" font-style="normal" fill="#18A850" textLength="7.60" lengthAdjust="spacingAndGlyphs"  stroke="#18A850" stroke-width="0.3">40</text><text x="573.2" y="588.1" font-size="6.3" font-weight="normal" font-style="italic" fill="#3a3a3a" text-anchor="middle"  stroke="#3a3a3a" stroke-width="0.12">2</text>
<text x="548.6" y="610.6" font-size="6.3" font-weight="normal" font-style="italic" fill="#3a3a3a" textLength="9.00" lengthAdjust="spacingAndGlyphs"  stroke="#3a3a3a" stroke-width="0.12">D =</text><text x="546.5" y="622.6" font-size="6.3" font-weight="normal" font-style="italic" fill="#3a3a3a" textLength="13.80" lengthAdjust="spacingAndGlyphs"  stroke="#3a3a3a" stroke-width="0.12">U.S. =</text><text x="573.2" y="610.6" font-size="6.3" font-weight="normal" font-style="italic" fill="#3a3a3a" text-anchor="middle"  stroke="#3a3a3a" stroke-width="0.12">-</text><text x="573.2" y="622.6" font-size="6.3" font-weight="normal" font-style="italic" fill="#3a3a3a" text-anchor="middle"  stroke="#3a3a3a" stroke-width="0.12">0</text>
<rect x="676.6" y="567.1" width="105.40" height="11.80" fill="#FCFB92" stroke="#C0201A" stroke-width="2" />
<text x="720.7" y="575.4" font-size="7.2" font-weight="bold" font-style="normal" fill="#A5561E" textLength="17.40" lengthAdjust="spacingAndGlyphs"  stroke="#A5561E" stroke-width="0.3">doccia</text>
<rect x="605.8" y="602.1999999999999" width="35.40" height="11.30" fill="#D7D8DA" stroke="#D87878" stroke-width="1" />
<rect x="676" y="602.0" width="71.00" height="11.70" fill="#000" />
<rect x="747.2" y="602.1" width="35.30" height="11.30" fill="#FCFB92" stroke="#C88040" stroke-width="1" />
<text x="764.9" y="610.1" font-size="6.5" font-weight="bold" font-style="normal" fill="#A86400" text-anchor="middle"  stroke="#A86400" stroke-width="0.3">0</text>
<line x1="62.5" y1="671.4" x2="371.5" y2="671.4" stroke="#1e1e1e" stroke-width="1.45" stroke-dasharray="4.7 1.95"/>
<line x1="405.5" y1="671.4" x2="676" y2="671.4" stroke="#1e1e1e" stroke-width="1.45" stroke-dasharray="4.7 1.95"/>
<line x1="468.5" y1="671.4" x2="502.6" y2="705.3" stroke="#151515" stroke-width="1.7" stroke-dasharray="7.4 2.0"/>
<line x1="502.5" y1="705.3" x2="605.6" y2="705.3" stroke="#1e1e1e" stroke-width="1.45" stroke-dasharray="4.7 1.95"/>
<line x1="641.4" y1="705.3" x2="676" y2="705.3" stroke="#1e1e1e" stroke-width="1.45" stroke-dasharray="4.7 1.95"/>
<polygon points="240.7,671.4 246.5,665.6999999999999 246.5,668.1999999999999 260.09999999999997,668.1999999999999 260.09999999999997,674.6 246.5,674.6 246.5,677.1" fill="url(#gArrH)" stroke="#6a1616" stroke-width="0.7" stroke-linejoin="round"/><rect x="257.9" y="668.8" width="1.8" height="5.2" fill="#f08080" opacity="0.7"/>
<rect x="240.0" y="655.6999999999999" width="5.20" height="4.90" fill="#fdfdfd" stroke="#8a8a8a" stroke-width="0.8" /><polyline points="240.92,658.15 242.12,659.518 244.4,656.7249999999999" fill="none" stroke="#111" stroke-width="1.1"/>
<text x="250.2" y="660.3" font-size="6.6" font-weight="bold" font-style="normal" fill="#050505" textLength="39.10" lengthAdjust="spacingAndGlyphs"  stroke="#050505" stroke-width="0.45">al discendente</text>
<text x="290.6" y="668.6" font-size="6.3" font-weight="normal" font-style="italic" fill="#3a3a3a" textLength="7.90" lengthAdjust="spacingAndGlyphs"  stroke="#3a3a3a" stroke-width="0.12">D =</text><text x="284.8" y="680.6" font-size="6.3" font-weight="normal" font-style="italic" fill="#3a3a3a" textLength="14.20" lengthAdjust="spacingAndGlyphs"  stroke="#3a3a3a" stroke-width="0.12">U.S. =</text><text x="314.8" y="668.6999999999999" font-size="8.0" font-weight="normal" font-style="normal" fill="#18A850" textLength="7.80" lengthAdjust="spacingAndGlyphs"  stroke="#18A850" stroke-width="0.3">40</text><text x="318.0" y="680.6" font-size="6.3" font-weight="normal" font-style="italic" fill="#3a3a3a" text-anchor="middle"  stroke="#3a3a3a" stroke-width="0.12">2</text>
<rect x="371.7" y="659.9" width="33.50" height="11.30" fill="#FCFB92" stroke="#B88A40" stroke-width="1" />
<text x="388.5" y="667.8" font-size="5.8" font-weight="bold" font-style="normal" fill="#A05A10" text-anchor="middle"  stroke="#A05A10" stroke-width="0.15">1%</text>
<text x="358.4" y="680.8" font-size="5.9" font-weight="normal" font-style="italic" fill="#A33038" textLength="55.20" lengthAdjust="spacingAndGlyphs"  stroke="#A33038" stroke-width="0.1">diramazione semplice</text>
<text x="607" y="668.8" font-size="5.9" font-weight="normal" font-style="italic" fill="#A33038" textLength="55.40" lengthAdjust="spacingAndGlyphs"  stroke="#A33038" stroke-width="0.1">diramazione semplice</text>
<text x="548.6" y="668.6" font-size="6.3" font-weight="normal" font-style="italic" fill="#3a3a3a" textLength="9.00" lengthAdjust="spacingAndGlyphs"  stroke="#3a3a3a" stroke-width="0.12">D =</text><text x="546.5" y="680.6" font-size="6.3" font-weight="normal" font-style="italic" fill="#3a3a3a" textLength="13.80" lengthAdjust="spacingAndGlyphs"  stroke="#3a3a3a" stroke-width="0.12">U.S. =</text><text x="571.7" y="668.6999999999999" font-size="8.0" font-weight="normal" font-style="normal" fill="#18A850" textLength="7.60" lengthAdjust="spacingAndGlyphs"  stroke="#18A850" stroke-width="0.3">40</text><text x="573.2" y="680.6" font-size="6.3" font-weight="normal" font-style="italic" fill="#3a3a3a" text-anchor="middle"  stroke="#3a3a3a" stroke-width="0.12">2</text>
<text x="548.6" y="702.5" font-size="6.3" font-weight="normal" font-style="italic" fill="#3a3a3a" textLength="9.00" lengthAdjust="spacingAndGlyphs"  stroke="#3a3a3a" stroke-width="0.12">D =</text><text x="546.5" y="714.5" font-size="6.3" font-weight="normal" font-style="italic" fill="#3a3a3a" textLength="13.80" lengthAdjust="spacingAndGlyphs"  stroke="#3a3a3a" stroke-width="0.12">U.S. =</text><text x="573.2" y="702.5" font-size="6.3" font-weight="normal" font-style="italic" fill="#3a3a3a" text-anchor="middle"  stroke="#3a3a3a" stroke-width="0.12">-</text><text x="573.2" y="714.5" font-size="6.3" font-weight="normal" font-style="italic" fill="#3a3a3a" text-anchor="middle"  stroke="#3a3a3a" stroke-width="0.12">0</text>
<rect x="676.6" y="659.6" width="105.40" height="11.80" fill="#FCFB92" stroke="#C0201A" stroke-width="2" />
<text x="717.1" y="667.9" font-size="7.2" font-weight="bold" font-style="normal" fill="#A5561E" textLength="25.10" lengthAdjust="spacingAndGlyphs"  stroke="#A5561E" stroke-width="0.3">lavatrice</text>
<rect x="605.8" y="694.0999999999999" width="35.40" height="11.30" fill="#D7D8DA" stroke="#D87878" stroke-width="1" />
<rect x="676" y="693.9" width="71.00" height="11.70" fill="#000" />
<rect x="747.2" y="694.0" width="35.30" height="11.30" fill="#FCFB92" stroke="#C88040" stroke-width="1" />
<text x="764.9" y="702.0" font-size="6.5" font-weight="bold" font-style="normal" fill="#A86400" text-anchor="middle"  stroke="#A86400" stroke-width="0.3">0</text>
<line x1="62.5" y1="762.4" x2="371.5" y2="762.4" stroke="#1e1e1e" stroke-width="1.45" stroke-dasharray="4.7 1.95"/>
<line x1="405.5" y1="762.4" x2="676" y2="762.4" stroke="#1e1e1e" stroke-width="1.45" stroke-dasharray="4.7 1.95"/>
<line x1="468.5" y1="762.4" x2="502.6" y2="797.25" stroke="#151515" stroke-width="1.7" stroke-dasharray="7.4 2.0"/>
<line x1="502.5" y1="797.25" x2="605.6" y2="797.25" stroke="#1e1e1e" stroke-width="1.45" stroke-dasharray="4.7 1.95"/>
<line x1="641.4" y1="797.25" x2="676" y2="797.25" stroke="#1e1e1e" stroke-width="1.45" stroke-dasharray="4.7 1.95"/>
<polygon points="240.7,762.4 246.5,756.6999999999999 246.5,759.1999999999999 260.09999999999997,759.1999999999999 260.09999999999997,765.6 246.5,765.6 246.5,768.1" fill="url(#gArrH)" stroke="#6a1616" stroke-width="0.7" stroke-linejoin="round"/><rect x="257.9" y="759.8" width="1.8" height="5.2" fill="#f08080" opacity="0.7"/>
<rect x="240.70000000000002" y="745.6999999999999" width="5.40" height="5.40" fill="#fdfdfd" stroke="#8a8a8a" stroke-width="0.8" /><polyline points="241.66400000000002,748.4 242.904,749.888 245.26,746.8499999999999" fill="none" stroke="#111" stroke-width="1.1"/>
<text x="251" y="750.6999999999999" font-size="6.6" font-weight="bold" font-style="normal" fill="#050505" textLength="39.20" lengthAdjust="spacingAndGlyphs"  stroke="#050505" stroke-width="0.45">al discendente</text>
<text x="290.6" y="759.6" font-size="6.3" font-weight="normal" font-style="italic" fill="#3a3a3a" textLength="7.90" lengthAdjust="spacingAndGlyphs"  stroke="#3a3a3a" stroke-width="0.12">D =</text><text x="284.8" y="771.6" font-size="6.3" font-weight="normal" font-style="italic" fill="#3a3a3a" textLength="14.20" lengthAdjust="spacingAndGlyphs"  stroke="#3a3a3a" stroke-width="0.12">U.S. =</text><text x="301.2" y="759.6999999999999" font-size="8.6" font-weight="bold" font-style="normal" fill="#2AAE62" textLength="55.20" lengthAdjust="spacingAndGlyphs"  stroke="#2AAE62" stroke-width="0.1">azione semplice</text><text x="318.0" y="771.6" font-size="6.3" font-weight="normal" font-style="italic" fill="#3a3a3a" text-anchor="middle"  stroke="#3a3a3a" stroke-width="0.12">2</text>
<rect x="371.7" y="750.9" width="33.50" height="11.30" fill="#FCFB92" stroke="#B88A40" stroke-width="1" />
<text x="388.5" y="758.8" font-size="5.8" font-weight="bold" font-style="normal" fill="#A05A10" text-anchor="middle"  stroke="#A05A10" stroke-width="0.15">1%</text>
<text x="358.4" y="771.8" font-size="5.9" font-weight="normal" font-style="italic" fill="#A33038" textLength="55.20" lengthAdjust="spacingAndGlyphs"  stroke="#A33038" stroke-width="0.1">diramazione semplice</text>
<text x="607" y="759.8" font-size="5.9" font-weight="normal" font-style="italic" fill="#A33038" textLength="55.40" lengthAdjust="spacingAndGlyphs"  stroke="#A33038" stroke-width="0.1">diramazione semplice</text>
<text x="548.6" y="759.6" font-size="6.3" font-weight="normal" font-style="italic" fill="#3a3a3a" textLength="9.00" lengthAdjust="spacingAndGlyphs"  stroke="#3a3a3a" stroke-width="0.12">D =</text><text x="546.5" y="771.6" font-size="6.3" font-weight="normal" font-style="italic" fill="#3a3a3a" textLength="13.80" lengthAdjust="spacingAndGlyphs"  stroke="#3a3a3a" stroke-width="0.12">U.S. =</text><text x="571.7" y="759.6999999999999" font-size="8.0" font-weight="normal" font-style="normal" fill="#18A850" textLength="7.60" lengthAdjust="spacingAndGlyphs"  stroke="#18A850" stroke-width="0.3">40</text><text x="573.2" y="771.6" font-size="6.3" font-weight="normal" font-style="italic" fill="#3a3a3a" text-anchor="middle"  stroke="#3a3a3a" stroke-width="0.12">2</text>
<text x="548.6" y="794.45" font-size="6.3" font-weight="normal" font-style="italic" fill="#3a3a3a" textLength="9.00" lengthAdjust="spacingAndGlyphs"  stroke="#3a3a3a" stroke-width="0.12">D =</text><text x="546.5" y="806.45" font-size="6.3" font-weight="normal" font-style="italic" fill="#3a3a3a" textLength="13.80" lengthAdjust="spacingAndGlyphs"  stroke="#3a3a3a" stroke-width="0.12">U.S. =</text><text x="573.2" y="794.45" font-size="6.3" font-weight="normal" font-style="italic" fill="#3a3a3a" text-anchor="middle"  stroke="#3a3a3a" stroke-width="0.12">-</text><text x="573.2" y="806.45" font-size="6.3" font-weight="normal" font-style="italic" fill="#3a3a3a" text-anchor="middle"  stroke="#3a3a3a" stroke-width="0.12">0</text>
<rect x="676.6" y="750.6" width="105.40" height="11.80" fill="#FCFB92" stroke="#C0201A" stroke-width="2" />
<text x="711.5" y="758.9" font-size="7.2" font-weight="bold" font-style="normal" fill="#A5561E" textLength="36.50" lengthAdjust="spacingAndGlyphs"  stroke="#A5561E" stroke-width="0.3">lavastoviglie</text>
<rect x="605.8" y="786.05" width="35.40" height="11.30" fill="#D7D8DA" stroke="#D87878" stroke-width="1" />
<rect x="676" y="785.85" width="71.00" height="11.70" fill="#000" />
<rect x="747.2" y="785.95" width="35.30" height="11.30" fill="#FCFB92" stroke="#C88040" stroke-width="1" />
<text x="764.9" y="793.95" font-size="6.5" font-weight="bold" font-style="normal" fill="#A86400" text-anchor="middle"  stroke="#A86400" stroke-width="0.3">0</text>
<line x1="62.5" y1="855.1" x2="371.5" y2="855.1" stroke="#1e1e1e" stroke-width="1.45" stroke-dasharray="4.7 1.95"/>
<line x1="405.5" y1="855.1" x2="676" y2="855.1" stroke="#1e1e1e" stroke-width="1.45" stroke-dasharray="4.7 1.95"/>
<line x1="468.5" y1="855.1" x2="502.6" y2="888.8" stroke="#151515" stroke-width="1.7" stroke-dasharray="7.4 2.0"/>
<line x1="502.5" y1="888.8" x2="605.6" y2="888.8" stroke="#1e1e1e" stroke-width="1.45" stroke-dasharray="4.7 1.95"/>
<line x1="641.4" y1="888.8" x2="676" y2="888.8" stroke="#1e1e1e" stroke-width="1.45" stroke-dasharray="4.7 1.95"/>
<polygon points="240.7,855.1 246.5,849.4 246.5,851.9 260.09999999999997,851.9 260.09999999999997,858.3000000000001 246.5,858.3000000000001 246.5,860.8000000000001" fill="url(#gArrH)" stroke="#6a1616" stroke-width="0.7" stroke-linejoin="round"/><rect x="257.9" y="852.5" width="1.8" height="5.2" fill="#f08080" opacity="0.7"/>
<rect x="239.6" y="839.1999999999999" width="5.00" height="4.90" fill="#fdfdfd" stroke="#8a8a8a" stroke-width="0.8" /><polyline points="240.476,841.65 241.636,843.018 243.84,840.2249999999999" fill="none" stroke="#111" stroke-width="1.1"/>
<text x="249.5" y="844.0" font-size="6.6" font-weight="bold" font-style="normal" fill="#050505" textLength="39.10" lengthAdjust="spacingAndGlyphs"  stroke="#050505" stroke-width="0.45">al discendente</text>
<text x="290.6" y="852.3000000000001" font-size="6.3" font-weight="normal" font-style="italic" fill="#3a3a3a" textLength="7.90" lengthAdjust="spacingAndGlyphs"  stroke="#3a3a3a" stroke-width="0.12">D =</text><text x="284.8" y="864.3000000000001" font-size="6.3" font-weight="normal" font-style="italic" fill="#3a3a3a" textLength="14.20" lengthAdjust="spacingAndGlyphs"  stroke="#3a3a3a" stroke-width="0.12">U.S. =</text><text x="314.8" y="852.4" font-size="8.0" font-weight="normal" font-style="normal" fill="#18A850" textLength="7.80" lengthAdjust="spacingAndGlyphs"  stroke="#18A850" stroke-width="0.3">40</text><text x="318.0" y="864.3000000000001" font-size="6.3" font-weight="normal" font-style="italic" fill="#3a3a3a" text-anchor="middle"  stroke="#3a3a3a" stroke-width="0.12">3</text>
<rect x="371.7" y="843.6" width="33.50" height="11.30" fill="#FCFB92" stroke="#B88A40" stroke-width="1" />
<text x="388.5" y="851.5" font-size="5.8" font-weight="bold" font-style="normal" fill="#A05A10" text-anchor="middle"  stroke="#A05A10" stroke-width="0.15">1%</text>
<text x="358.4" y="864.5" font-size="5.9" font-weight="normal" font-style="italic" fill="#A33038" textLength="55.20" lengthAdjust="spacingAndGlyphs"  stroke="#A33038" stroke-width="0.1">diramazione semplice</text>
<text x="607" y="852.5" font-size="5.9" font-weight="normal" font-style="italic" fill="#A33038" textLength="55.40" lengthAdjust="spacingAndGlyphs"  stroke="#A33038" stroke-width="0.1">diramazione semplice</text>
<text x="548.6" y="852.3000000000001" font-size="6.3" font-weight="normal" font-style="italic" fill="#3a3a3a" textLength="9.00" lengthAdjust="spacingAndGlyphs"  stroke="#3a3a3a" stroke-width="0.12">D =</text><text x="546.5" y="864.3000000000001" font-size="6.3" font-weight="normal" font-style="italic" fill="#3a3a3a" textLength="13.80" lengthAdjust="spacingAndGlyphs"  stroke="#3a3a3a" stroke-width="0.12">U.S. =</text><text x="571.7" y="852.4" font-size="8.0" font-weight="normal" font-style="normal" fill="#18A850" textLength="7.60" lengthAdjust="spacingAndGlyphs"  stroke="#18A850" stroke-width="0.3">40</text><text x="573.2" y="864.3000000000001" font-size="6.3" font-weight="normal" font-style="italic" fill="#3a3a3a" text-anchor="middle"  stroke="#3a3a3a" stroke-width="0.12">3</text>
<text x="548.6" y="886.0" font-size="6.3" font-weight="normal" font-style="italic" fill="#3a3a3a" textLength="9.00" lengthAdjust="spacingAndGlyphs"  stroke="#3a3a3a" stroke-width="0.12">D =</text><text x="546.5" y="898.0" font-size="6.3" font-weight="normal" font-style="italic" fill="#3a3a3a" textLength="13.80" lengthAdjust="spacingAndGlyphs"  stroke="#3a3a3a" stroke-width="0.12">U.S. =</text><text x="573.2" y="886.0" font-size="6.3" font-weight="normal" font-style="italic" fill="#3a3a3a" text-anchor="middle"  stroke="#3a3a3a" stroke-width="0.12">-</text><text x="573.2" y="898.0" font-size="6.3" font-weight="normal" font-style="italic" fill="#3a3a3a" text-anchor="middle"  stroke="#3a3a3a" stroke-width="0.12">0</text>
<rect x="676.6" y="843.3000000000001" width="105.40" height="11.80" fill="#FCFB92" stroke="#C0201A" stroke-width="2" />
<text x="720" y="851.6" font-size="7.2" font-weight="bold" font-style="normal" fill="#A5561E" textLength="18.80" lengthAdjust="spacingAndGlyphs"  stroke="#A5561E" stroke-width="0.3">lavello</text>
<rect x="605.8" y="877.5999999999999" width="35.40" height="11.30" fill="#D7D8DA" stroke="#D87878" stroke-width="1" />
<rect x="676" y="877.4" width="71.00" height="11.70" fill="#000" />
<rect x="747.2" y="877.5" width="35.30" height="11.30" fill="#FCFB92" stroke="#C88040" stroke-width="1" />
<text x="764.9" y="885.5" font-size="6.5" font-weight="bold" font-style="normal" fill="#A86400" text-anchor="middle"  stroke="#A86400" stroke-width="0.3">0</text>
<text x="337.8" y="342.4" font-size="8.4" font-weight="normal" font-style="normal" fill="#2e2e2e" textLength="23.20" lengthAdjust="spacingAndGlyphs"  stroke="#2e2e2e" stroke-width="0.3">adesso</text>
<line x1="62.5" y1="958.5" x2="372" y2="958.5" stroke="#1e1e1e" stroke-width="1.45" stroke-dasharray="4.7 1.95"/>
<line x1="405.7" y1="958.6" x2="676" y2="958.6" stroke="#1a1a1a" stroke-width="1.7" stroke-dasharray="4.2 2.2"/>
<polygon points="240.4,958.5 246.20000000000002,952.8 246.20000000000002,955.3 259.8,955.3 259.8,961.7 246.20000000000002,961.7 246.20000000000002,964.2" fill="url(#gArrH)" stroke="#6a1616" stroke-width="0.7" stroke-linejoin="round"/><rect x="257.6" y="955.9" width="1.8" height="5.2" fill="#f08080" opacity="0.7"/>
<rect x="243.0" y="940.6999999999999" width="5.00" height="5.00" fill="#fdfdfd" stroke="#8a8a8a" stroke-width="0.8" /><polyline points="243.876,943.2 245.036,944.592 247.24,941.75" fill="none" stroke="#111" stroke-width="1.1"/>
<text x="252.3" y="945.5" font-size="6.6" font-weight="bold" font-style="normal" fill="#050505" textLength="39.70" lengthAdjust="spacingAndGlyphs"  stroke="#050505" stroke-width="0.45">al discendente</text>
<text x="346" y="956" font-size="6.3" font-weight="normal" font-style="italic" fill="#3a3a3a" textLength="17.20" lengthAdjust="spacingAndGlyphs"  stroke="#3a3a3a" stroke-width="0.12">U.S. =</text>
<rect x="371.7" y="947.7" width="33.50" height="11.20" fill="#FCFB92" stroke="#C88040" stroke-width="1" />
<text x="388.5" y="956" font-size="6.5" font-weight="bold" font-style="normal" fill="#A86400" text-anchor="middle"  stroke="#A86400" stroke-width="0.3">0</text>
<rect x="676.6" y="947.4" width="105.80" height="10.90" fill="#D7D8DA" stroke="#1a1a1a" stroke-width="1.2" />
<line x1="62.5" y1="1000.7" x2="95" y2="1000.7" stroke="#555" stroke-width="1" stroke-dasharray="1 1"/>
<rect x="95" y="986.3" width="138.00" height="13.70" fill="#F2F2F2" />
<line x1="95" y1="1000.2" x2="234" y2="1000.2" stroke="#111" stroke-width="1.6"/>
<line x1="233.2" y1="986.3" x2="233.2" y2="1001" stroke="#111" stroke-width="1.6"/>
<text x="97.4" y="997.9" font-size="9.2" font-weight="bold" font-style="normal" fill="#161616" textLength="91.00" lengthAdjust="spacingAndGlyphs"  stroke="#161616" stroke-width="0.35">TOT. U.S._ Piano Tipo</text>
<text x="211.3" y="997.9" font-size="10" font-weight="bold" font-style="normal" fill="#18A850" textLength="11.30" lengthAdjust="spacingAndGlyphs"  stroke="#18A850" stroke-width="0.3">19</text>

<g filter="url(#ds)">
 <!-- toilet -->
 <g filter="url(#soft)">
 <path d="M799,127.6 L818.2,127.6 L817.6,134.5 L817.2,144.3 L802.2,144.3 L801.8,134.5 L799.6,133 Z" fill="#b5ad9f"/>
 <path d="M799,127.6 L818.2,127.6 L817.9,130.2 L799.3,130.2 Z" fill="#958c80"/>
 <path d="M799.6,133 L801.8,134.5 L802.2,144.3 L800.6,144.3 Z" fill="#ece8de"/>
 <path d="M812,130 L817.6,130 L817.2,144.3 L813,144.3 Z" fill="#a39b8e"/>
 </g>
 <!-- urinal -->
 <g filter="url(#soft)">
 <path d="M800.5,221 Q804,216.5 811,217 Q818,218.5 817.6,227 Q816.5,236.5 807,237.6 Q800,237 799.2,230 Z" fill="#ecdfd0"/>
 <path d="M806.5,218.5 Q802.5,226 801.2,234" stroke="#c9b8a4" stroke-width="1.3" fill="none"/>
 <path d="M812,219 Q816.5,223 816,229 Q814,235.5 808,236.8 Q812,231 812,219 Z" fill="#f5e4d6"/>
 <path d="M800,232 Q806,238.5 815,233 Q812,237.8 806,237.8 Q801,237 800,232 Z" fill="#d8c9b8"/>
 </g>
 <!-- washbasin -->
 <g filter="url(#soft)">
 <path d="M792.2,320.5 Q796,316.8 806,317 Q818,317.4 820.5,320.8 Q819,324.8 806,325.3 Q794,325 792.2,320.5 Z" fill="#d3cabd"/>
 <ellipse cx="801" cy="320.2" rx="7.5" ry="1.8" fill="#bdb3a5"/>
 <path d="M806,313.5 L811,313.5 L811,318.5 L806,318.5 Z" fill="#aaa294"/>
 <rect x="807.5" y="313.2" width="2" height="2.2" fill="#777066"/>
 <circle cx="803.6" cy="320.6" r="1" fill="#2a2622"/>
 </g>
 <!-- bidet -->
 <g filter="url(#soft)">
 <path d="M799.6,403 Q808,399.5 816.8,402.5 L816.2,412 Q815.5,420 811,421.5 L803,421.8 L802.6,414 Q799.5,411 799.6,403 Z" fill="#cbc0b1"/>
 <ellipse cx="808" cy="403.4" rx="8.2" ry="2.6" fill="#aea293"/>
 <path d="M799.6,406 Q801,413 802.8,414.5 L802.8,421.8 L801.2,421.8 L801,414 Z" fill="#efe8de"/>
 <rect x="811" y="398.2" width="2.4" height="3.6" fill="#8a8276"/>
 </g>
 <!-- bathtub -->
 <g filter="url(#soft)">
 <path d="M792.6,507 L809,502.5 L820.5,505.5 L819.6,514.5 L808.5,518.4 L793.5,514.8 Z" fill="#d3cabe"/>
 <path d="M792.6,507 L809,502.5 L820.5,505.5 L807.5,509.2 Z" fill="#ebe3d8"/>
 <path d="M807.5,509.2 L820.5,505.5 L819.6,514.5 L808.5,518.4 Z" fill="#c0b6a8"/>
 <circle cx="808.6" cy="503.4" r="0.7" fill="#666"/>
 </g>
 <!-- shower tray -->
 <g filter="url(#soft)">
 <path d="M792.2,600.4 L807.2,592.6 L820.5,600.6 L805,611.4 Z" fill="#d4cabd"/>
 <path d="M794.8,600.4 L807.2,594.4 L818,600.6 L805.2,608.6 Z" fill="#f2e8de"/>
 <circle cx="804.2" cy="607.6" r="1" fill="#2c2a26"/>
 </g>
 <!-- washing machine -->
 <g filter="url(#soft)">
 <rect x="794" y="680.2" width="17.8" height="23.8" fill="#f0e7d7"/>
 <path d="M811.8,680.2 L816,681.2 L816,704 L811.8,704 Z" fill="#d9ceBE"/>
 <circle cx="802.6" cy="690.6" r="6.8" fill="#fbf8f1" stroke="#d0c5b4" stroke-width="0.5"/>
 <circle cx="802.6" cy="690.6" r="4.9" fill="#1f1e1c"/>
 <circle cx="802.4" cy="691.4" r="2.3" fill="#4b4c4e"/>
 <rect x="804.5" y="680.6" width="3.8" height="1.6" fill="#3e3a36"/>
 <rect x="797" y="681" width="1.5" height="1" fill="#8a8478"/>
 </g>
 <!-- dishwasher -->
 <g filter="url(#soft)">
 <rect x="797.2" y="773.9" width="18.3" height="21.6" fill="#ece3d5"/>
 <rect x="797.6" y="773.9" width="17.6" height="3.2" fill="#35312c"/>
 <rect x="797.6" y="777.1" width="17.6" height="5.6" fill="#6a645c"/>
 <rect x="799" y="778.2" width="12" height="1" fill="#d8d0c4"/>
 <ellipse cx="802" cy="780.5" rx="1.8" ry="1.4" fill="#f0e8dc"/>
 <path d="M795.2,782.8 L812.6,782.8 L812.6,790 L795.2,788.6 Z" fill="#f0e8da"/>
 <rect x="796" y="784.5" width="16" height="0.8" fill="#b5ab9c"/>
 <rect x="796" y="787.2" width="16" height="0.8" fill="#b5ab9c"/>
 <path d="M812.6,782.8 L815.5,781 L815.5,791.5 L812.6,790 Z" fill="#4a453f"/>
 </g>
 <!-- sink -->
 <g filter="url(#soft)">
 <path d="M790.6,881.5 L801,878.3 L823.6,883.4 L816.8,889.5 L798.6,888.9 Z" fill="#cfc6b8"/>
 <path d="M792.8,881.6 L801,879.4 L812,881.5 L800,884.6 Z" fill="#6e6458"/>
 <path d="M811.5,882.4 L821.5,883.8 L816.5,886.6 L808,885.6 Z" fill="#857a6c"/>
 <path d="M798.6,884.6 L805,884 L805,888.8 L798.6,888.9 Z" fill="#ede6da"/>
 <path d="M803.5,873.2 Q806.6,867.6 810.2,871.8 L810.2,884.4" stroke="#8a8276" stroke-width="1.1" fill="none"/>
 <rect x="800.6" y="885.4" width="1.9" height="2.8" fill="#1e1c1a"/>
 </g>
</g>

<rect x="0" y="0" width="1.00" height="1024.00" fill="#c2c2b6" />
<rect x="1" y="27.5" width="1.00" height="996.50" fill="#f6f4ea" />
<rect x="825" y="27.5" width="1.00" height="996.50" fill="#fbfbf6" />
<rect x="826" y="0" width="1.00" height="1024.00" fill="#2a2a2a" />
<rect x="0" y="1021" width="826.00" height="1.00" fill="#fbfbf6" />
<rect x="0" y="1022" width="827.00" height="2.00" fill="#333333" />
</svg>
</body></html>
